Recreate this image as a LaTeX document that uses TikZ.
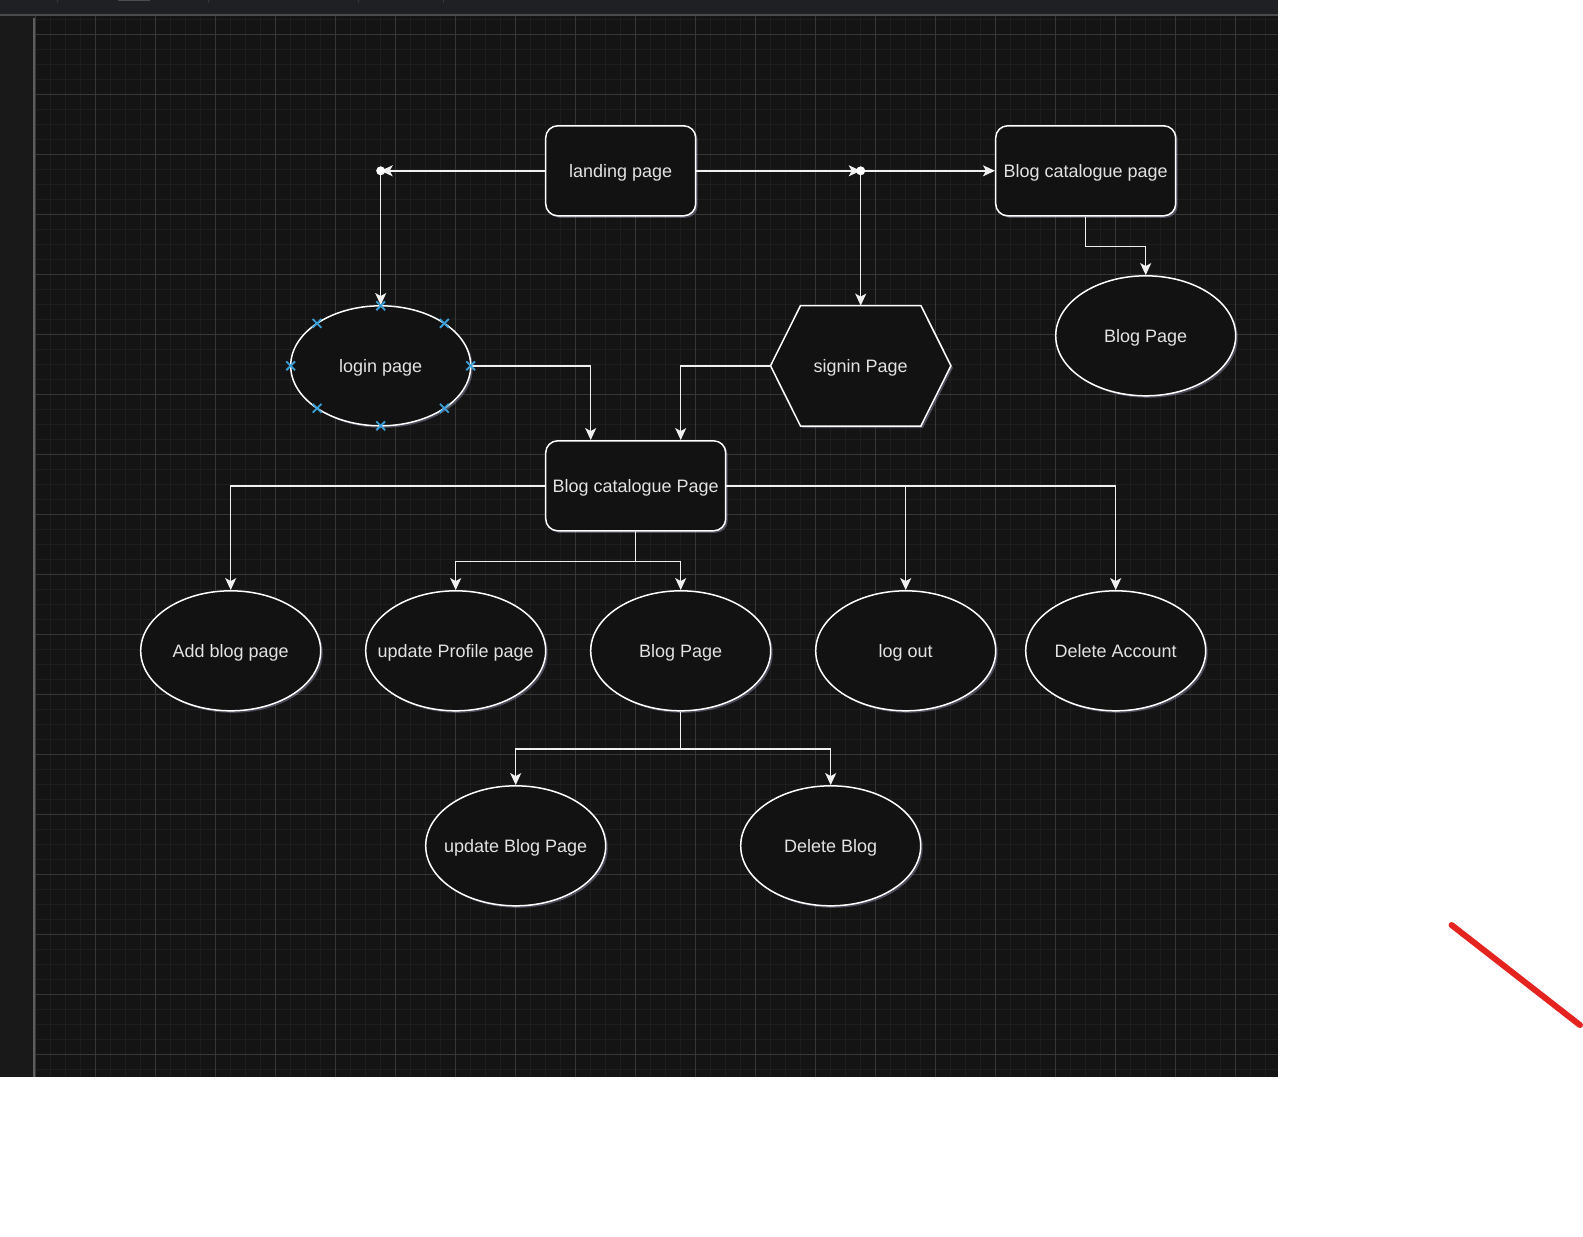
\documentclass[tikz,border=0pt]{standalone}
\usepackage{fontspec}
\setmainfont{Liberation Sans}
\usetikzlibrary{shapes,arrows.meta,shadows}

\definecolor{canvasbg}{HTML}{141414}
\definecolor{panelbg}{HTML}{191919}
\definecolor{barbg}{HTML}{1F2023}
\definecolor{gridminor}{HTML}{1E1E1E}
\definecolor{gridmajor}{HTML}{363636}
\definecolor{nodefill}{HTML}{121212}
\definecolor{labelgray}{HTML}{E2E2E2}
\definecolor{markblue}{HTML}{3A9FD8}
\definecolor{penred}{HTML}{E52420}

\tikzset{
  glow/.style={drop shadow={shadow xshift=2pt,shadow yshift=-2pt,fill=white!80!blue,opacity=0.3}},
  pagetext/.style={text=labelgray, font=\fontsize{18}{22}\selectfont, text height=13pt, text depth=0pt},
  pagebox/.style={draw=white, fill=nodefill, line width=1.5pt, rounded corners=12pt,
    minimum width=180pt, minimum height=90pt, inner sep=0pt, pagetext, glow},
  pageoval/.style={ellipse, draw=white, fill=nodefill, line width=1.5pt,
    minimum width=180pt, minimum height=120pt, inner xsep=-20pt, inner ysep=0pt, pagetext, glow},
  flow/.style={draw=white!94!black, line width=1.5pt, -{Stealth[length=12pt,width=11pt,inset=3pt]}},
  markx/.style={cross out, draw=markblue, line width=1.8pt, minimum size=7pt, inner sep=0pt}
}

\begin{document}
\begin{tikzpicture}[x=15pt,y=-15pt]
  \useasboundingbox (-2.38,-2.287) rectangle (103.153,80.113);

  % Canvas and editor chrome
  \fill[white] (-2.38,-2.287) rectangle (103.153,80.113);
  \fill[canvasbg] (-2.38,-2.287) rectangle (82.82,69.51);
  \foreach \i in {0,...,82} \draw[gridminor, line width=1pt] (\i,-1.2) -- (\i,69.51);
  \foreach \j in {-1,...,69} \draw[gridminor, line width=1pt] (0,\j) -- (82.82,\j);
  \foreach \i in {0,4,...,80} \draw[gridmajor, line width=1pt] (\i,-1.2) -- (\i,69.51);
  \foreach \j in {0,4,...,68} \draw[gridmajor, line width=1pt] (0,\j) -- (82.82,\j);
  \fill[panelbg] (-2.38,-1.287) rectangle (-0.02,69.51);
  \draw[gridmajor!80!white, line width=2pt] (-0.1,-1.1) -- (-0.1,69.51);
  \fill[barbg] (-2.38,-2.287) rectangle (82.82,-1.287);
  \draw[gridmajor!90!white, line width=1.2pt] (-2.38,-1.287) -- (82.82,-1.287);
  \foreach \t in {1.44,11.53,21.53,27.17} \draw[gridmajor, line width=1pt] (\t,-2.287) -- (\t,-2.08);
  \draw[gray!60!black, line width=1.5pt] (5.49,-2.25) -- (7.62,-2.25);

  \begin{scope}[yshift=-1.5pt]
  % Pages
  \node[pagebox, minimum width=150pt] (landing) at (39,9) {landing page};
  \node[pagebox] (catalogtop) at (70,9) {Blog catalogue page};
  \node[pageoval] (blogtop) at (74,20) {Blog Page};
  \node[pageoval] (login) at (23,22) {login page};
  \node[minimum width=180pt, minimum height=120pt, inner sep=0pt] (signin) at (55,22) {};
  \path[draw=white, fill=nodefill, line width=1.5pt, glow]
    (signin.west) -- ([xshift=30pt]signin.north west) -- ([xshift=-30pt]signin.north east)
    -- (signin.east) -- ([xshift=-30pt]signin.south east) -- ([xshift=30pt]signin.south west) -- cycle;
  \node[pagetext] at (signin) {signin Page};
  \node[pagebox] (catalog) at (40,30) {Blog catalogue Page};

  \node[pageoval] (addblog) at (13,41) {Add blog page};
  \node[pageoval] (profile) at (28,41) {update Profile page};
  \node[pageoval] (blogpage) at (43,41) {Blog Page};
  \node[pageoval] (logout) at (58,41) {log out};
  \node[pageoval] (delacc) at (72,41) {Delete Account};
  \node[pageoval] (updblog) at (32,54) {update Blog Page};
  \node[pageoval] (delblog) at (53,54) {Delete Blog};

  % Connectors
  \coordinate (jl) at (23,9);
  \coordinate (jr) at (55,9);
  \draw[flow] (landing.west) -- (jl);
  \draw[flow] (jl) -- (login.north);
  \draw[flow] (landing.east) -- (jr);
  \draw[flow] (jr) -- (catalogtop.west);
  \draw[flow] (jr) -- (signin.north);
  \fill[white] (jl) circle (4.5pt);
  \fill[white] (jr) circle (4.5pt);
  \draw[flow] (catalogtop.south) -- ++(0,2) -| (blogtop.north);
  \draw[flow] (login.east) -| ([xshift=-45pt]catalog.north);
  \draw[flow] (signin.west) -| ([xshift=45pt]catalog.north);
  \draw[flow] (catalog.west) -| (addblog.north);
  \draw[flow] (catalog.south) -- ++(0,2) -| (profile.north);
  \draw[flow] (catalog.south) -- ++(0,2) -| (blogpage.north);
  \draw[flow] (catalog.east) -| (logout.north);
  \draw[flow] (catalog.east) -| (delacc.north);
  \draw[flow] (blogpage.south) -- ++(0,2.5) -| (updblog.north);
  \draw[flow] (blogpage.south) -- ++(0,2.5) -| (delblog.north);

  % Selection handles on login page
  \foreach \a in {0,45,...,315}
    \node[markx] at ([shift={({6*cos(\a)},{4*sin(\a)})}]login.center) {};
  \end{scope}

  % Red pen stroke
  \draw[penred, line width=6pt, line cap=round] (94.39,59.38) -- (102.95,66.05);
\end{tikzpicture}
\end{document}
